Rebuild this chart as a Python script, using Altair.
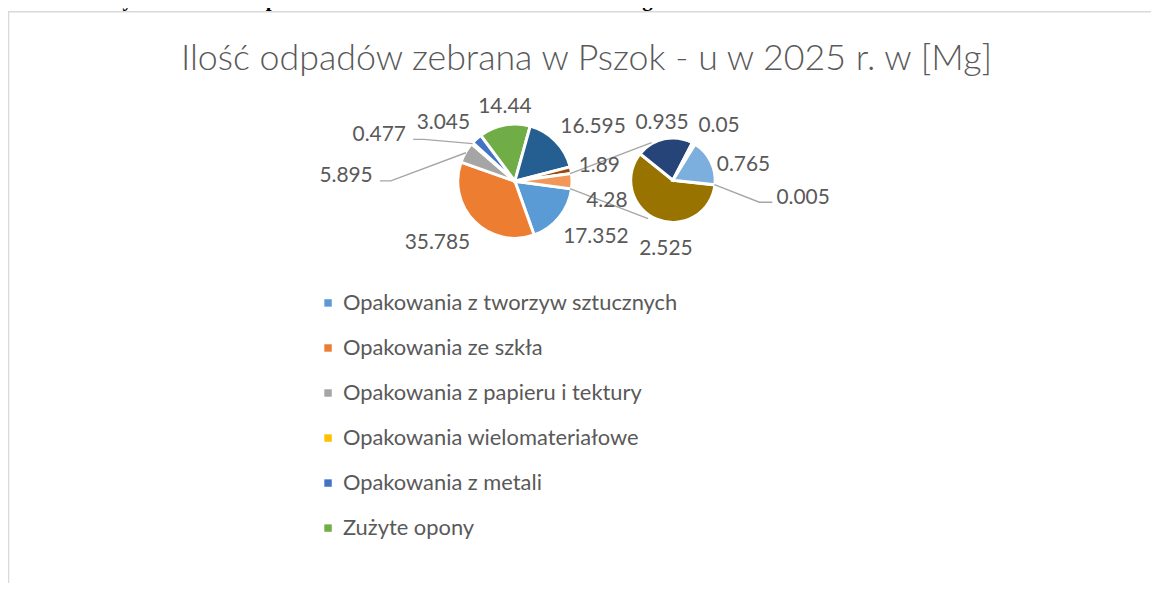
import math
import altair as alt
import pandas as pd

# ---------------- data ----------------
caption = "Wykres 4. Ilość odpadów zebrana w Pszok – u w 2025 r. w Mg."
title = "Ilość odpadów zebrana w Pszok - u w 2025 r. w [Mg]"

main_cats = ["Opakowania z tworzyw sztucznych", "Opakowania ze szkła",
             "Opakowania z papieru i tektury", "Opakowania wielomateriałowe",
             "Opakowania z metali", "Zużyte opony", "Kategoria 7", "Kategoria 8",
             "Pozostałe"]
main_values = [17.352, 35.785, 5.895, 0.477, 3.045, 14.44, 16.595, 1.89, 4.28]
main_colors = ["#5B9BD5", "#ED7D31", "#A5A5A5", "#FFC000", "#4472C4",
               "#70AD47", "#255E91", "#9E480E", "#F1975A"]

sec_cats = ["Kategoria 9", "Kategoria 10", "Kategoria 11", "Kategoria 12", "Kategoria 13"]
sec_values = [0.005, 2.525, 0.935, 0.05, 0.765]
sec_colors = ["#636363", "#997300", "#264478", "#43682B", "#7CAFDD"]

legend_cats = main_cats[:6]

# ---------------- layout ----------------
W, H = 1150, 575
FONT = "Lato"
TXT = "#595959"
LINE = "#A6A6A6"
LBL_SIZE = 21

main_c = (510.0, 172.5)
r_main = 56
sec_c = (669.0, 171.5)
r_sec = 41
main_start = 90 + main_values[-1] / sum(main_values) * 180  # "other" slice centred at 3 o'clock
sec_start = 96.0

# per-label placement: (angle offset from slice middle [deg], distance from centre [px])
main_lab = [(-5, 98.3), (7, 99), (-28, 170), (-22.2, 144.7), (-8, 93.9),
            (3, 77), (9, 96.6), (0, 86.5), (11.4, 94.4)]
sec_lab = [(0.8, 132), (-16.7, 68.4), (1.4, 60.3), (10.1, 72.8), (12.7, 73)]
main_leaders = {2: "left", 3: "left"}
sec_leaders = {0: "right"}


def spans(values, start):
    tot = sum(values)
    acc = 0.0
    out = []
    for v in values:
        s = start + acc / tot * 360
        acc += v
        e = start + acc / tot * 360
        out.append((s, (s + e) / 2, e))
    return out


def polar(c, ang, dist):
    a = math.radians(ang)
    return c[0] + dist * math.sin(a), c[1] - dist * math.cos(a)


def fmt(v):
    return str(v)


def half_width(t):
    return sum(5.3 if ch == "." else 12.2 for ch in t) / 2


main_sp = spans(main_values, main_start)
sec_sp = spans(sec_values, sec_start)

label_rows = []
line_rows = []
gid = 0


def add_labels(values, sp, lab, leaders, c, r):
    global gid
    for i, v in enumerate(values):
        t = fmt(v)
        lx, ly = polar(c, sp[i][1] + lab[i][0], lab[i][1])
        label_rows.append({"t": t, "x": lx, "y": ly})
        if i in leaders:
            hw = half_width(t)
            ex, ey = polar(c, sp[i][1], r + 1)
            if leaders[i] == "left":
                pts = [(ex, ey), (lx + hw + 18, ly + 6), (lx + hw + 7, ly + 6)]
            else:
                pts = [(ex, ey), (lx - hw - 17, ly + 6), (lx - hw - 4, ly + 6)]
            for k, (px, py) in enumerate(pts):
                line_rows.append({"g": gid, "o": k, "x": px, "y": py})
            gid += 1


add_labels(main_values, main_sp, main_lab, main_leaders, main_c, r_main)
add_labels(sec_values, sec_sp, sec_lab, sec_leaders, sec_c, r_sec)

# series lines joining the "other" slice to the secondary pie
other = main_sp[-1]
for a_main, (a_sec, d_sec) in [(other[0], (330.4, r_sec + 2.5)), (other[2], (213.0, r_sec + 5))]:
    p1 = polar(main_c, a_main, r_main)
    p2 = polar(sec_c, a_sec, d_sec)
    for k, (px, py) in enumerate([p1, p2]):
        line_rows.append({"g": gid, "o": k, "x": px, "y": py})
    gid += 1

df_main = pd.DataFrame({"cat": main_cats, "value": main_values, "idx": range(len(main_values))})
df_sec = pd.DataFrame({"cat": sec_cats, "value": sec_values, "idx": range(len(sec_values))})
df_lab = pd.DataFrame(label_rows)
df_lines = pd.DataFrame(line_rows)

color_scale = alt.Scale(domain=main_cats + sec_cats, range=main_colors + sec_colors)
legend = alt.Legend(values=legend_cats, orient="none", legendX=311, legendY=284, title=None,
                    symbolType="square", symbolSize=56, symbolStrokeWidth=0,
                    labelFont=FONT, labelFontSize=22, labelColor=TXT,
                    rowPadding=23.3, labelOffset=4, padding=0, labelLimit=1000)


def pie(df, start, c, r):
    a0 = math.radians(start)
    return alt.Chart(df).mark_arc(stroke="white", strokeWidth=3, radius=r + 1.5).encode(
        theta=alt.Theta("value:Q", stack=True, scale=alt.Scale(range=[a0, a0 + 2 * math.pi])),
        color=alt.Color("cat:N", scale=color_scale, legend=legend),
        order=alt.Order("idx:Q"),
        x=alt.value(c[0]),
        y=alt.value(c[1]),
    )


one = pd.DataFrame({"a": [0]})

frame = alt.Chart(one).mark_rect(fillOpacity=0, stroke="#D9D9D9", strokeWidth=1.5).encode(
    x=alt.value(0.5), x2=alt.value(W + 20), y=alt.value(2), y2=alt.value(H + 20))

cap = alt.Chart(pd.DataFrame({"t": [caption]})).mark_text(
    font="Liberation Serif", fontWeight="bold", fontSize=21, align="left",
    baseline="alphabetic", color="black").encode(
    x=alt.value(95), y=alt.value(-3.5), text="t:N")

ttl = alt.Chart(pd.DataFrame({"t": [title]})).mark_text(
    font=FONT, fontWeight=300, fontSize=36, align="center", baseline="alphabetic", color=TXT).encode(
    x=alt.value(582), y=alt.value(61), text="t:N")

lines = alt.Chart(df_lines).mark_line(color=LINE, strokeWidth=1.4).encode(
    x=alt.X("x:Q", scale=None, axis=None),
    y=alt.Y("y:Q", scale=None, axis=None),
    detail="g:N", order="o:Q")

labels = alt.Chart(df_lab).mark_text(
    font=FONT, fontSize=LBL_SIZE, color=TXT, align="center", baseline="alphabetic", dy=7.5).encode(
    x=alt.X("x:Q", scale=None, axis=None),
    y=alt.Y("y:Q", scale=None, axis=None),
    text="t:N")

chart = alt.layer(
    frame, cap, ttl,
    pie(df_main, main_start, main_c, r_main),
    pie(df_sec, sec_start, sec_c, r_sec),
    lines, labels,
).resolve_scale(theta="independent").properties(
    width=W, height=H, padding=0, autosize=alt.AutoSizeParams(type="none"),
    background="white",
).configure_view(stroke=None)

chart.save("out.html", embed_options={"renderer": "svg", "actions": False})
